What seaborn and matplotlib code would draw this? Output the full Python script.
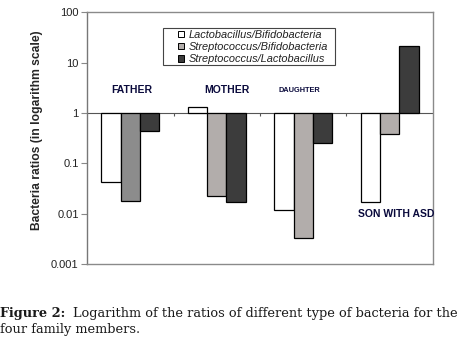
import numpy as np
import pandas as pd
import matplotlib
matplotlib.use("Agg")
import matplotlib.pyplot as plt
from matplotlib.patches import Rectangle
import seaborn as sns

# data
members = ["FATHER", "MOTHER", "DAUGHTER", "SON WITH ASD"]
ratios = ["Lactobacillus/Bifidobacteria",
          "Streptococcus/Bifidobacteria",
          "Streptococcus/Lactobacillus"]
lacto_bifido = [0.042, 1.3, 0.012, 0.017]
strep_bifido = [0.018, 0.022, 0.0033, 0.38]
strep_lacto = [0.43, 0.017, 0.25, 21.0]
ytick_labels = ["0.001", "0.01", "0.1", "1", "10", "100"]

rows = []
for series, vals in zip(ratios, [lacto_bifido, strep_bifido, strep_lacto]):
    for m, v in zip(members, vals):
        rows.append({"member": m, "ratio": series, "value": v})
df = pd.DataFrame(rows)
# bars hang from 1, so plot log10 of the ratio on a linear axis
df["logv"] = np.log10(df["value"])

sns.set_style("white")
plt.rcParams["font.family"] = ["Liberation Sans", "DejaVu Sans"]

fig = plt.figure(figsize=(4.63, 3.47), dpi=100)
ax = fig.add_axes([0.188, 0.239, 0.747, 0.726])

palette = ["#ffffff", "#b2adab", "#3c3c3c"]
sns.barplot(data=df, x="member", y="logv", hue="ratio", hue_order=ratios,
            palette=palette, width=0.67, edgecolor="black", linewidth=0.9,
            saturation=1, ax=ax, legend=True)

# father's middle bar is a darker grey in the original
for bar in ax.containers[1][:1]:
    bar.set_facecolor("#8c8c8c")

ax.set_ylim(-3, 2)
ax.set_xlim(-0.5, 3.5)
ax.set_yticks(range(-3, 3))
ax.set_yticklabels(ytick_labels, fontsize=8, color="#222222")
ax.tick_params(axis="y", left=True, length=4, width=0.8, color="#888888", pad=2)
ax.set_xticks([])
ax.set_xlabel("")
ax.set_ylabel("Bacteria ratios (in logarithm scale)", fontsize=8.7,
              fontweight="bold")
ax.yaxis.set_label_coords(-0.127, 0.53)

for s in ax.spines.values():
    s.set_color("#8a8a8a")
    s.set_linewidth(1.0)
ax.spines["left"].set_color("#777777")

# category axis crossing at 1
ax.axhline(0, color="#555555", lw=0.8, zorder=0.5)
ax.vlines([0.5, 1.5, 2.5], -0.07, 0, color="#555555", lw=0.8)

# member labels
lab_col = "#0a0a3c"
ax.text(0.02, 0.46, "FATHER", ha="center", va="center", fontsize=7.5,
        fontweight="bold", color=lab_col)
ax.text(1.12, 0.46, "MOTHER", ha="center", va="center", fontsize=7.5,
        fontweight="bold", color=lab_col)
ax.text(1.96, 0.44, "DAUGHTER", ha="center", va="center", fontsize=5.3,
        fontweight="bold", color=lab_col)
ax.text(3.07, -2.0, "SON WITH ASD", ha="center", va="center", fontsize=7.5,
        fontweight="bold", color=lab_col)

leg = ax.legend(loc="upper left", bbox_to_anchor=(0.262, 0.93), fontsize=7.9,
                frameon=False, handlelength=0.55, handleheight=0.55,
                handletextpad=0.45, borderpad=0, labelspacing=0.2,
                borderaxespad=0)
for t in leg.get_texts():
    t.set_fontstyle("italic")
    t.set_color("#222222")
for h in leg.legend_handles:
    h.set_linewidth(0.7)
# legend frame as in the original (wider than its contents)
ax.add_patch(Rectangle((0.2197, 0.79), 0.497, 0.147, transform=ax.transAxes,
                       fill=False, edgecolor="#444444", lw=0.8, zorder=5))

# caption
cap_font = ["DejaVu Serif"]
fig.text(0.0, 0.086, "Figure 2:", fontsize=9.3, fontweight="bold",
         family=cap_font, color="#1a1a1a", va="baseline")
fig.text(0.158, 0.086, "Logarithm of the ratios of different type of bacteria for the",
         fontsize=9.3, family=cap_font, color="#1a1a1a", va="baseline")
fig.text(0.0, 0.04, "four family members.", fontsize=9.3, family=cap_font,
         color="#1a1a1a", va="baseline")

fig.savefig("out.png", dpi=100)
